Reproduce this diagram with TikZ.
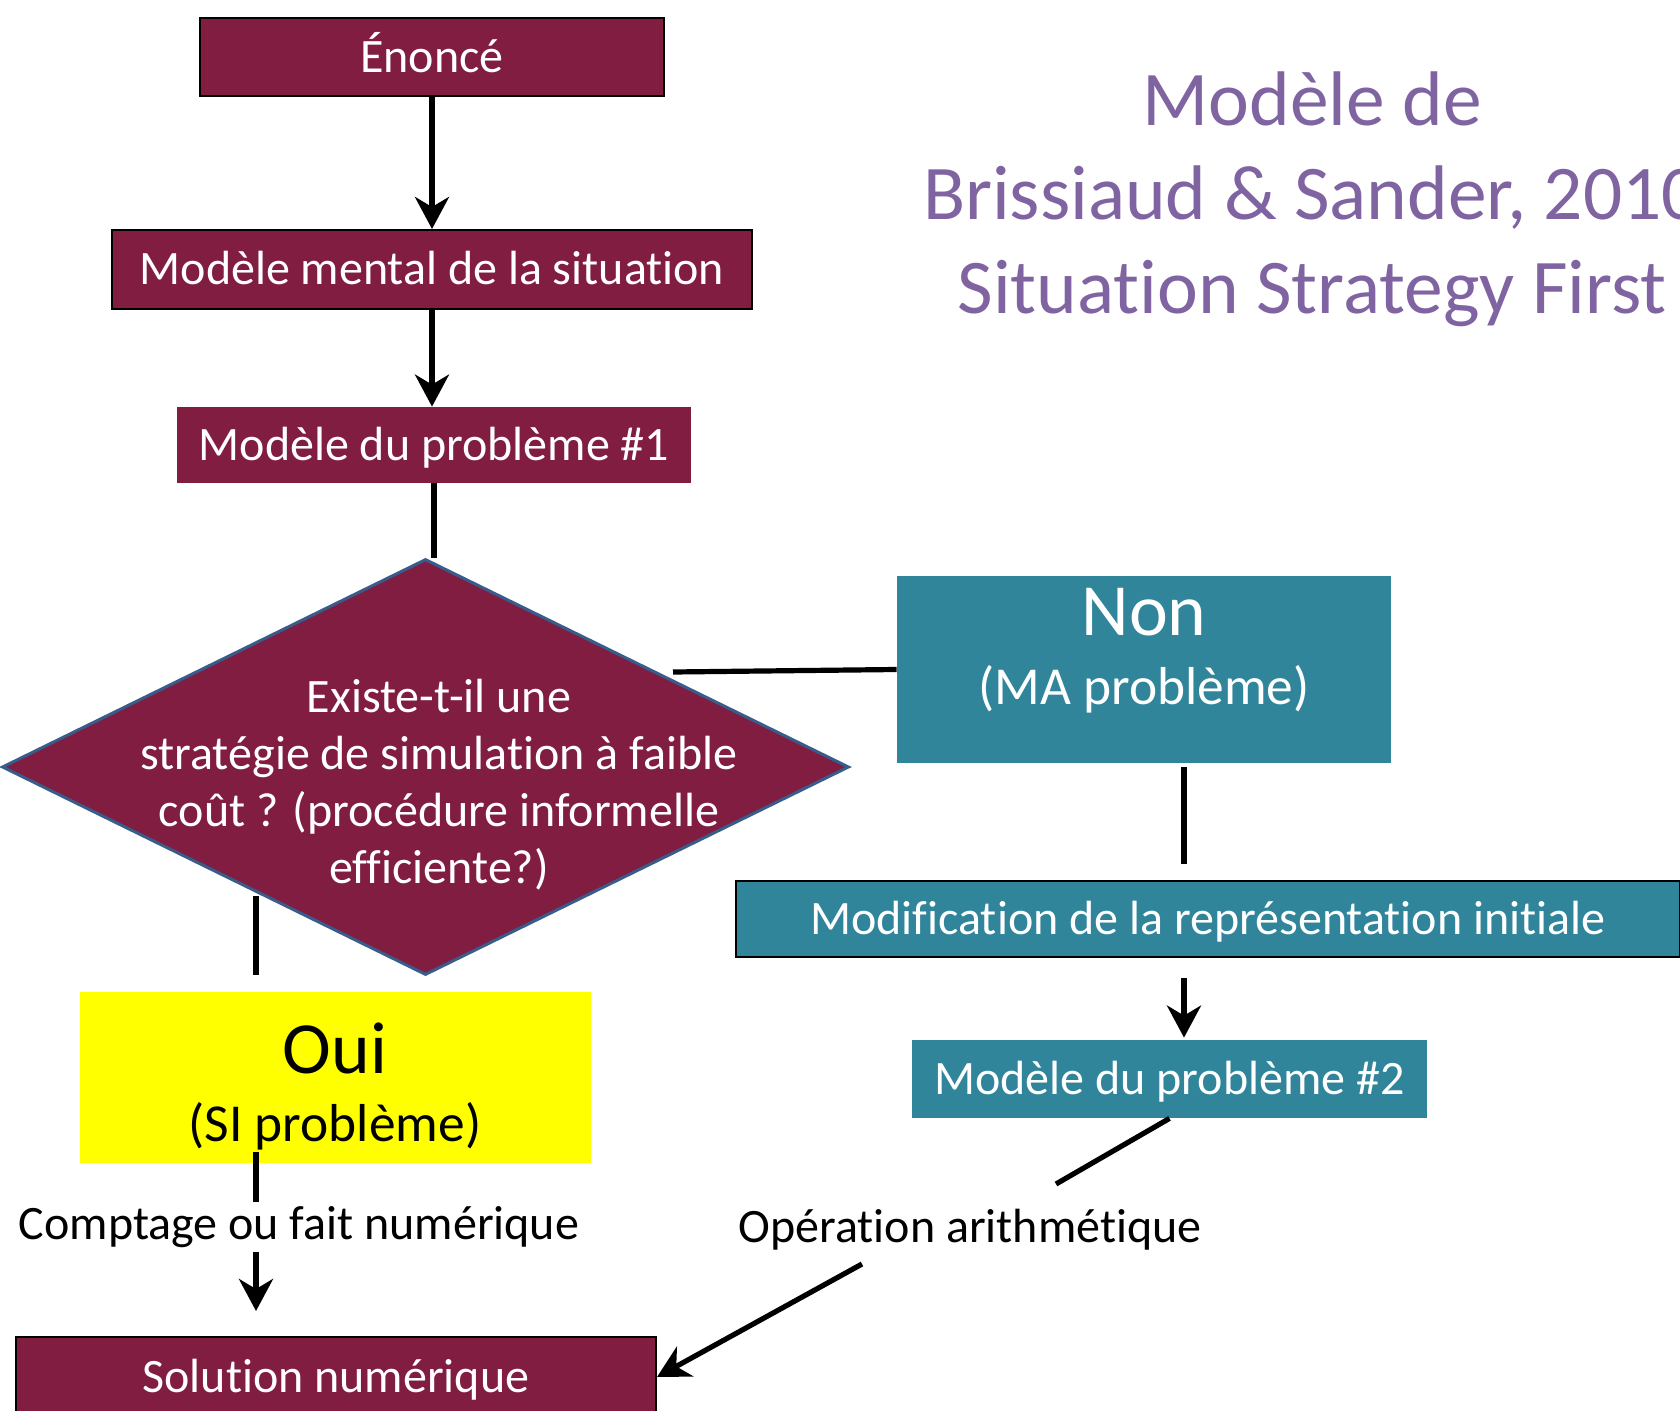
\documentclass[tikz,border=0pt]{standalone}
\usepackage{fontspec}
\setmainfont{Carlito}[Ligatures=NoCommon]
\usetikzlibrary{shapes.geometric,arrows.meta}
\tikzset{>={Stealth[length=16pt,width=17pt,inset=5pt]}}
\definecolor{mymaroon}{RGB}{128,29,64}
\definecolor{myteal}{RGB}{49,133,155}
\definecolor{mypurple}{RGB}{128,100,162}
\definecolor{myedge}{RGB}{56,93,138}
\definecolor{myyellow}{RGB}{255,255,0}
\tikzset{
  txt/.style={font=\fontsize{24}{29}\selectfont},
  box/.style={rectangle,inner sep=0pt,text=white,txt,text height=20pt,text depth=4.6pt},
  redbox/.style={box,fill=mymaroon},
  tealbox/.style={box,fill=myteal},
  framed/.style={draw=black,line width=1pt},
  question/.style={diamond,fill=mymaroon,draw=myedge,line width=1.5pt,
    minimum width=423.5pt,minimum height=208pt,inner sep=0pt},
  bigword/.style={inner sep=0pt,font=\fontsize{36.8}{40}\selectfont},
  subword/.style={inner sep=0pt,font=\fontsize{26.7}{30}\selectfont},
  lbl/.style={inner sep=1pt,txt},
  link/.style={line width=2.6pt}
}

\begin{document}
\begin{tikzpicture}[x=0.5pt,y=-0.5pt]
  \useasboundingbox (0,0) rectangle (1680,1411);

  % title
  \node[align=center,text=mypurple,font=\fontsize{38.7}{47}\selectfont] (title)
    at (1312,199) {Modèle de\\Brissiaud \& Sander, 2010\\Situation Strategy First};

  % left column
  \node[redbox,framed,minimum width=232pt,minimum height=39pt] (enonce) at (432,57) {Énoncé};
  \node[redbox,framed,minimum width=320pt,minimum height=39.5pt] (mental) at (432,269.5)
    {Modèle mental de la situation};
  \node[redbox,minimum width=257pt,minimum height=38pt] (prob1) at (434,445)
    {Modèle du problème \#1};

  % question
  \node[question] (q) at (425.5,767) {};
  \node[txt,text=white,align=center,font=\fontsize{24}{28.5}\selectfont] (qtxt) at (439,785)
    {Existe-t-il une\\stratégie de simulation à faible\\coût ? (procédure informelle\\efficiente?)};

  % answers
  \node[tealbox,minimum width=247pt,minimum height=93.5pt] (non) at (1144,669.5) {};
  \node[bigword,text=white] (nonword) at (1144,612) {Non};
  \node[subword,text=white] (nonsub) at (1144,689) {(MA problème)};
  \node[fill=myyellow,inner sep=0pt,minimum width=255.5pt,minimum height=85.5pt] (oui)
    at (335.5,1077.5) {};
  \node[bigword] (ouiword) at (335,1048) {Oui};
  \node[subword] (ouisub) at (335,1126) {(SI problème)};

  % right column
  \node[tealbox,framed,minimum width=472pt,minimum height=38pt] (modif) at (1208,919)
    {Modification de la représentation initiale};
  \node[tealbox,minimum width=257.5pt,minimum height=39pt] (prob2) at (1169.5,1079)
    {Modèle du problème \#2};

  % labels and solution
  \node[lbl] (comptage) at (299,1227) {Comptage ou fait numérique};
  \node[lbl] (oparith) at (970,1230) {Opération arithmétique};
  \node[redbox,framed,minimum width=320pt,minimum height=40pt] (sol) at (336,1377)
    {Solution numérique};

  % free ends
  \coordinate (qright) at (673,672);
  \coordinate (qout) at (256,896);
  \coordinate (rcol) at (1184,0);
  \coordinate (opain) at (1056,1184);
  \coordinate (opaout) at (862,1264);

  % arrows
  \draw[->,link] (enonce) -- (mental);
  \draw[->,link] (mental.south) -- (mental.south |- prob1.north);
  \draw[link] (prob1.south) -- (prob1.south |- q.north);
  \draw[link] (qright) -- (non.west);
  \draw[link,shorten <=2pt,shorten >=8pt] (non.south -| rcol) -- (modif.north -| rcol);
  \draw[->,link,shorten <=10pt,shorten >=1pt] (modif.south -| rcol) -- (prob2.north -| rcol);
  \draw[link] (prob2.south) -- (opain);
  \draw[->,link] (opaout) -- (sol.east);
  \draw[link,shorten >=8.5pt] (qout) -- (qout |- oui.north);
  \draw[link,shorten <=-5.5pt,shorten >=1pt] (oui.south -| qout) -- (comptage.north -| qout);
  \draw[->,link,shorten <=1pt,shorten >=12.5pt] (comptage.south -| qout) -- (sol.north -| qout);

\end{tikzpicture}
\end{document}
